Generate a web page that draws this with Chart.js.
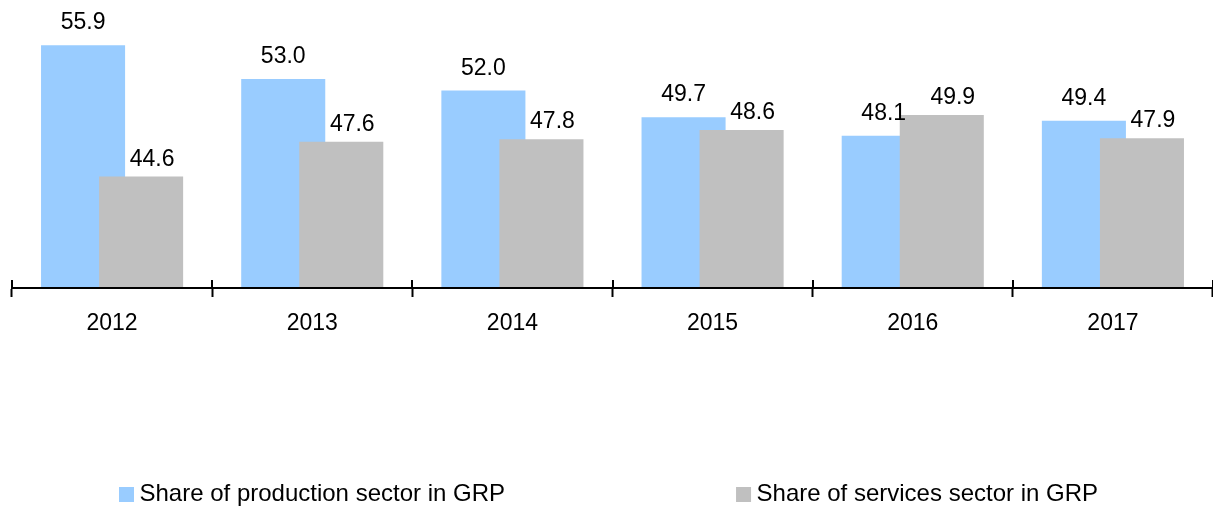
<!DOCTYPE html>
<html>
<head>
<meta charset="utf-8">
<script src="https://cdn.jsdelivr.net/npm/chart.js@4.4.1/dist/chart.umd.min.js"></script>
<style>
  html, body { margin: 0; padding: 0; background: #fff; }
  #wrap { width: 1213px; height: 509px; position: relative; }
</style>
</head>
<body>
<div id="wrap"><canvas id="c"></canvas></div>
<script>
const years = ['2012', '2013', '2014', '2015', '2016', '2017'];
const productionShare = [55.9, 53.0, 52.0, 49.7, 48.1, 49.4];
const servicesShare = [44.6, 47.6, 47.8, 48.6, 49.9, 47.9];
const seriesNames = ['Share of production sector in GRP', 'Share of services sector in GRP'];

const FONT = '"Liberation Sans", Arial, Helvetica, sans-serif';
const COLORS = ['#99CCFF', '#C0C0C0'];

const drawPlugin = {
  id: 'orderedBars',
  beforeDatasetsDraw(chart) {
    const ctx = chart.ctx;
    const a = chart.chartArea;
    // draw datasets in index order so the second series overlaps the first
    ctx.save();
    ctx.beginPath();
    ctx.rect(a.left, a.top, a.right - a.left, a.bottom - a.top - 1);
    ctx.clip();
    chart.data.datasets.forEach((ds, i) => {
      const meta = chart.getDatasetMeta(i);
      if (!meta.hidden) meta.controller.draw();
    });
    ctx.restore();
    // value labels
    ctx.save();
    ctx.font = '23px ' + FONT;
    ctx.fillStyle = '#000';
    ctx.textAlign = 'center';
    ctx.textBaseline = 'alphabetic';
    chart.data.datasets.forEach((ds, i) => {
      const meta = chart.getDatasetMeta(i);
      meta.data.forEach((bar, j) => {
        const v = ds.data[j];
        const dx = i === 0 ? 0 : 11;
        const gap = i === 0 ? 16 : 11;
        ctx.fillText(v.toFixed(1), bar.x + dx, bar.y - gap);
      });
    });
    ctx.restore();
    return false;
  },
  afterDraw(chart) {
    const ctx = chart.ctx;
    const W = chart.width, H = chart.height;
    const starts = [0.0981, 0.6068];
    const cy = H - 14.5;
    ctx.save();
    ctx.font = '24px ' + FONT;
    ctx.textBaseline = 'middle';
    ctx.textAlign = 'left';
    chart.data.datasets.forEach((ds, i) => {
      const x = W * starts[i];
      ctx.fillStyle = ds.backgroundColor;
      ctx.fillRect(x, cy - 7.5, 15, 15);
      ctx.fillStyle = '#000';
      ctx.fillText(ds.label, x + 20.5, cy - 0.5);
    });
    ctx.restore();
  }
};

new Chart(document.getElementById('c'), {
  type: 'bar',
  data: {
    labels: years,
    datasets: [
      { label: seriesNames[0], data: productionShare, backgroundColor: COLORS[0],
        categoryPercentage: 0.58, barPercentage: 1.448 },
      { label: seriesNames[1], data: servicesShare, backgroundColor: COLORS[1],
        categoryPercentage: 0.58, barPercentage: 1.448 }
    ]
  },
  options: {
    responsive: true,
    maintainAspectRatio: false,
    animation: false,
    layout: { padding: { left: 12, right: 0, top: 0, bottom: 171 } },
    plugins: {
      legend: { display: false },
      tooltip: { enabled: false },
      title: { display: false }
    },
    scales: {
      x: {
        type: 'category',
        offset: true,
        afterFit(scale) { scale.height = 50; },
        grid: {
          display: true, offset: true, drawOnChartArea: false, drawTicks: true,
          tickLength: 9, tickWidth: 2, tickColor: '#000'
        },
        border: { display: true, color: '#000', width: 2 },
        ticks: { color: '#000', font: { family: FONT, size: 23 }, padding: 13, maxRotation: 0 }
      },
      y: {
        display: false,
        min: 35,
        max: 59.8
      }
    }
  },
  plugins: [drawPlugin, {
    id: 'tickUp',
    afterDraw(chart) {
      // upward half of the x-axis tick marks (category boundaries)
      const xs = chart.scales.x;
      const ctx = chart.ctx;
      const n = chart.data.labels.length;
      const step = (xs.right - xs.left) / n;
      ctx.save();
      ctx.strokeStyle = '#000';
      ctx.lineWidth = 2;
      for (let i = 0; i <= n; i++) {
        const x = Math.round(xs.left + i * step);
        ctx.beginPath();
        ctx.moveTo(x, xs.top);
        ctx.lineTo(x, xs.top - 8);
        ctx.stroke();
      }
      ctx.restore();
    }
  }]
});
</script>
</body>
</html>
